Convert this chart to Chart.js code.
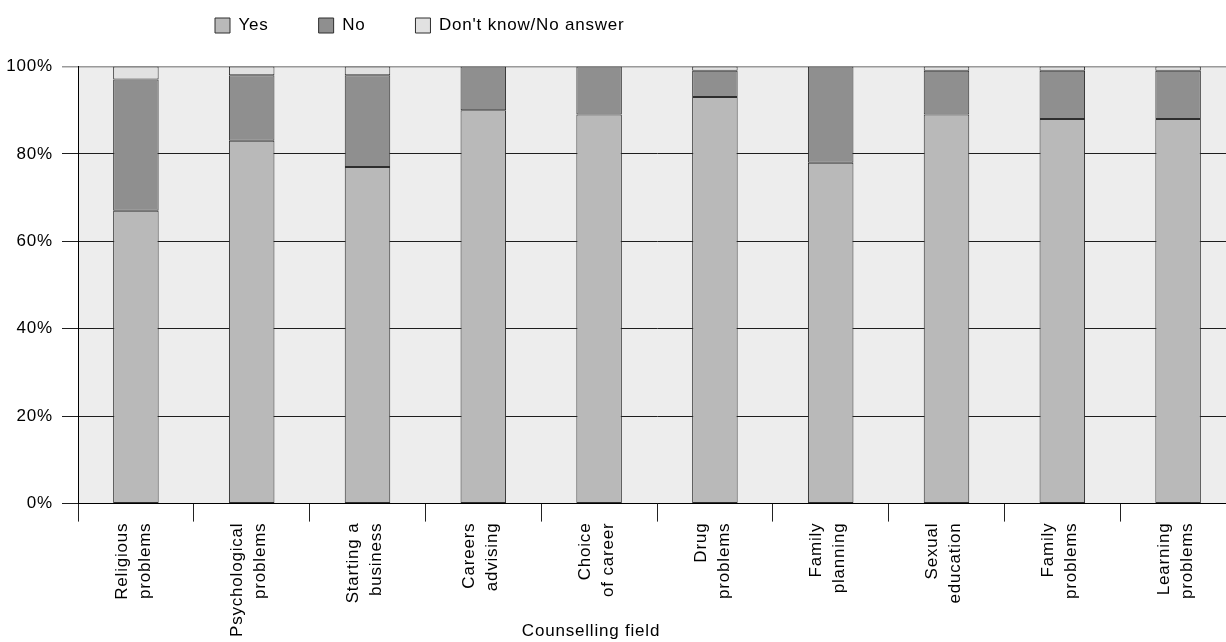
<!DOCTYPE html>
<html>
<head>
<meta charset="utf-8">
<script src="https://cdn.jsdelivr.net/npm/chart.js@4/dist/chart.umd.min.js"></script>
<style>
  html, body { margin: 0; padding: 0; background: #fff; overflow: hidden; }
  #wrap { width: 1226px; height: 642px; overflow: hidden; }
  canvas { display: block; }
</style>
</head>
<body>
<div id="wrap"><canvas id="c" width="1236" height="642"></canvas></div>
<script>
// Counselling fields (two-line axis labels)
const categories = [
  ["Religious", "problems"],
  ["Psychological", "problems"],
  ["Starting a", "business"],
  ["Careers", "advising"],
  ["Choice", "of career"],
  ["Drug", "problems"],
  ["Family", "planning"],
  ["Sexual", "education"],
  ["Family", "problems"],
  ["Learning", "problems"]
];

// Share of answers, in percent
const seriesNames = ["Yes", "No", "Don't know/No answer"];
const yesValues = [67, 83, 77, 90, 89, 93, 78, 89, 88, 88];
const noValues = [30, 15, 21, 10, 11, 6, 22, 10, 11, 11];
const dontKnowValues = [3, 2, 2, 0, 0, 1, 0, 1, 1, 1];

const yTickValues = [0, 20, 40, 60, 80, 100];
const axisTitle = "Counselling field";

const FONT = "'Liberation Sans', Arial, Helvetica, sans-serif";

// Light grey panel behind the plot, plus text tracking
const panel = {
  id: 'panel',
  beforeUpdate(chart) { chart.ctx.letterSpacing = '0.8px'; },
  beforeDraw(chart) {
    const { ctx, chartArea: a } = chart;
    ctx.letterSpacing = '0.8px';
    ctx.save();
    ctx.fillStyle = '#ededed';
    ctx.fillRect(a.left, a.top, a.right - a.left, a.bottom - a.top);
    ctx.restore();
  },
  // place the legend row and the axis caption
  afterLayout(chart) {
    if (chart.legend) { chart.legend.left = 165; chart.legend.top = -33; }
    if (chart.titleBlock) { chart.titleBlock.left = 0; chart.titleBlock.right = 1182; }
  }
};

const common = {
  borderColor: '#2e2e2e', borderWidth: 1, borderSkipped: false,
  barPercentage: 0.393, categoryPercentage: 1
};

new Chart(document.getElementById('c'), {
  type: 'bar',
  data: {
    labels: categories,
    datasets: [
      Object.assign({ label: seriesNames[0], data: yesValues, backgroundColor: '#b9b9b9' }, common),
      Object.assign({ label: seriesNames[1], data: noValues, backgroundColor: '#8f8f8f' }, common),
      Object.assign({ label: seriesNames[2], data: dontKnowValues, backgroundColor: '#e1e1e1' }, common)
    ]
  },
  options: {
    responsive: false,
    devicePixelRatio: 1,
    animation: false,
    layout: { padding: 0 },
    plugins: {
      tooltip: { enabled: false },
      legend: {
        position: 'top',
        align: 'start',
        maxHeight: 66.5,
        labels: {
          boxWidth: 15, boxHeight: 15, padding: 50,
          color: '#000',
          font: { family: FONT, size: 17 }
        }
      },
      title: {
        display: true,
        position: 'bottom',
        text: axisTitle,
        color: '#000',
        // zero-height box: the caption sits over the bottom of the tick-label band
        padding: { top: -20.4, bottom: 0 },
        font: { family: FONT, size: 17, weight: 'normal', lineHeight: 1.2 }
      }
    },
    scales: {
      x: {
        stacked: true,
        afterFit(scale) { scale.height = 138.4; },
        grid: { offset: true, drawOnChartArea: false, tickLength: 18, color: '#222', lineWidth: 1 },
        border: { color: '#000', width: 1 },
        ticks: {
          autoSkip: false, minRotation: 90, maxRotation: 90,
          padding: 1, labelOffset: -14,
          color: '#000',
          font: { family: FONT, size: 17, lineHeight: 1.35 }
        }
      },
      y: {
        stacked: true,
        min: 0, max: 100,
        afterFit(scale) { scale.width = 78; },
        afterBuildTicks(scale) { scale.ticks = yTickValues.map(v => ({ value: v })); },
        grid: {
          tickLength: 16,
          color: ctx => (ctx.tick && ctx.tick.value === 100) ? '#9a9a9a' : '#1e1e1e',
          lineWidth: ctx => (ctx.tick && ctx.tick.value === 100) ? 1.5 : 1
        },
        border: { color: '#000', width: 1 },
        ticks: {
          padding: 9,
          color: '#000',
          font: { family: FONT, size: 17 },
          callback: v => v + '%'
        }
      }
    }
  },
  plugins: [panel]
});
</script>
</body>
</html>
